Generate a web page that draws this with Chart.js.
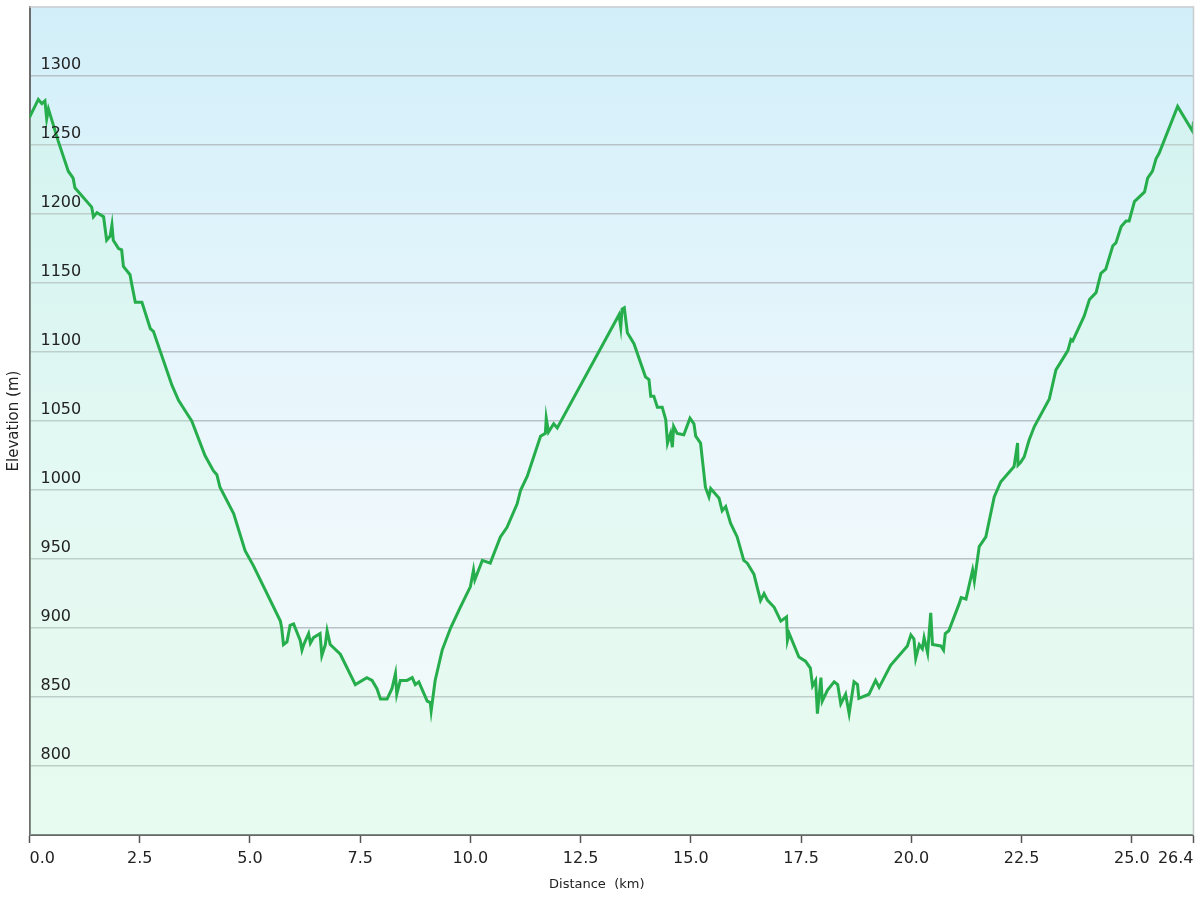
<!DOCTYPE html>
<html lang="en">
<head>
    <meta charset="UTF-8">
    <title>Elevation profile</title>
    <script src="https://cdn.jsdelivr.net/npm/chart.js@4.4.0/dist/chart.umd.min.js"></script>
    <style>
        body { margin: 0; background: #fff; }
        #wrap { width: 1200px; height: 900px; }
    </style>
</head>
<body>
<div id="wrap"><canvas id="chart"></canvas></div>
<script>
// distance along the route (km) and elevation (m)
const distanceKm = [
    0, 0.2, 0.28, 0.35, 0.39, 0.43, 0.65, 0.88, 0.99, 1.03,
    1.41, 1.45, 1.53, 1.68, 1.75, 1.83, 1.87, 1.9, 2.02, 2.09,
    2.13, 2.28, 2.32, 2.4, 2.55, 2.74, 2.81, 3.23, 3.38, 3.6,
    3.68, 3.98, 4.17, 4.25, 4.32, 4.63, 4.89, 5.08, 5.69, 5.72,
    5.76, 5.84, 5.91, 5.99, 6.14, 6.18, 6.22, 6.33, 6.37, 6.44,
    6.59, 6.63, 6.71, 6.75, 6.82, 7.05, 7.39, 7.65, 7.77, 7.88,
    7.96, 8.11, 8.22, 8.3, 8.33, 8.41, 8.56, 8.68, 8.75, 8.83,
    9.02, 9.09, 9.11, 9.2, 9.36, 9.55, 9.77, 10.0, 10.07, 10.1,
    10.27, 10.45, 10.68, 10.83, 11.06, 11.14, 11.29, 11.59, 11.7, 11.72,
    11.77, 11.89, 11.97, 13.37, 13.41, 13.44, 13.49, 13.56, 13.71, 13.97,
    14.05, 14.09, 14.16, 14.24, 14.35, 14.43, 14.47, 14.54, 14.58, 14.61,
    14.69, 14.84, 14.98, 15.07, 15.11, 15.22, 15.33, 15.41, 15.45, 15.64,
    15.71, 15.79, 15.9, 16.05, 16.2, 16.28, 16.43, 16.58, 16.66, 16.74,
    16.89, 17.04, 17.17, 17.19, 17.23, 17.45, 17.6, 17.71, 17.76, 17.83,
    17.87, 17.95, 17.98, 18.1, 18.25, 18.33, 18.4, 18.51, 18.59, 18.7,
    18.78, 18.81, 19.04, 19.19, 19.27, 19.53, 19.91, 19.99, 20.06, 20.1,
    20.18, 20.25, 20.29, 20.37, 20.44, 20.48, 20.67, 20.73, 20.77, 20.85,
    21.09, 21.13, 21.24, 21.39, 21.43, 21.54, 21.69, 21.88, 22.03, 22.33,
    22.41, 22.42, 22.48, 22.56, 22.67, 22.79, 23.13, 23.28, 23.55, 23.62,
    23.66, 23.92, 24.04, 24.19, 24.3, 24.41, 24.57, 24.64, 24.76, 24.87,
    24.94, 25.06, 25.29, 25.36, 25.47, 25.55, 25.62, 26.04, 26.38, 26.4
];
const elevationM = [
    1270, 1283, 1280, 1282, 1269, 1276, 1253, 1231, 1226, 1219,
    1205, 1198, 1201, 1198, 1181, 1184, 1192, 1181, 1175, 1174,
    1162, 1156, 1149, 1136, 1136, 1117, 1115, 1076, 1065, 1054,
    1050, 1025, 1014, 1011, 1002, 983, 956, 945, 905, 900,
    888, 890, 902, 903, 891, 884, 888, 896, 889, 893,
    896, 880, 888, 898, 888, 881, 859, 864, 862, 856,
    848.5, 848.5, 856, 867, 852, 862, 862, 864, 859, 861,
    847, 846, 840, 862, 884, 900, 915, 930, 942, 935,
    949, 947, 966, 973, 990, 1000, 1010, 1039, 1041, 1052,
    1042, 1048, 1045, 1127, 1118, 1131, 1132, 1114, 1106, 1082,
    1080, 1068, 1068, 1060, 1060, 1051, 1034, 1041, 1031, 1046,
    1041, 1040, 1052, 1048, 1039, 1034, 1002, 995, 1001, 994,
    985, 988, 976, 966, 949, 947, 939, 920, 925, 920,
    915, 905, 908, 891, 896, 879, 876, 871, 858, 862,
    838, 864, 847, 855, 861, 859, 845, 852, 838, 861,
    859, 849, 852, 862, 857, 873, 887, 895, 892, 878,
    888, 885, 893, 882, 911, 888, 887, 884, 896, 898,
    918, 922, 921, 942, 934, 959, 966, 995, 1006, 1017,
    1034, 1018, 1020, 1024, 1036, 1046, 1066, 1087, 1101, 1109,
    1108, 1126, 1138, 1143, 1157, 1160, 1177, 1179, 1191, 1195,
    1195, 1209, 1216, 1226, 1231, 1240, 1244, 1278, 1260, 1267
];
const xTicks = [0, 2.5, 5, 7.5, 10, 12.5, 15, 17.5, 20, 22.5, 25, 26.4];
const yTicks = [800, 850, 900, 950, 1000, 1050, 1100, 1150, 1200, 1250, 1300];

const points = distanceKm.map((d, i) => ({x: d, y: elevationM[i]}));

// sky gradient behind the plot and the thin frame on top/right
const frame = {
    id: 'frame',
    beforeDraw(chart) {
        const ctx = chart.ctx;
        const a = chart.chartArea;
        const g = ctx.createLinearGradient(0, a.top, 0, a.bottom);
        g.addColorStop(0, '#d2eff9');
        g.addColorStop(0.6, '#eef8fc');
        g.addColorStop(1, '#f2fbf8');
        ctx.save();
        ctx.fillStyle = g;
        ctx.fillRect(a.left, a.top, a.right - a.left, a.bottom - a.top);
        ctx.restore();
    },
    afterDraw(chart) {
        const ctx = chart.ctx;
        const a = chart.chartArea;
        ctx.save();
        ctx.strokeStyle = '#c8cccf';
        ctx.lineWidth = 1.5;
        ctx.beginPath();
        ctx.moveTo(a.left, a.top);
        ctx.lineTo(a.right, a.top);
        ctx.lineTo(a.right, a.bottom);
        ctx.stroke();
        ctx.restore();
    }
};

const font = 'DejaVu Sans';

new Chart(document.getElementById('chart'), {
    type: 'line',
    data: {
        datasets: [{
            label: 'Elevation',
            data: points,
            borderColor: '#26ad4c',
            borderWidth: 3,
            backgroundColor: 'rgba(200, 250, 215, 0.25)',
            fill: 'start',
            pointRadius: 0,
            tension: 0
        }]
    },
    options: {
        responsive: true,
        maintainAspectRatio: false,
        animation: false,
        layout: { padding: { top: 7, right: 6.5, left: 0, bottom: 0 } },
        plugins: {
            legend: { display: false },
            title: {
                display: true,
                position: 'bottom',
                text: 'Distance  (km)',
                color: '#222',
                font: { family: font, size: 13, weight: 'normal' },
                padding: { top: 7, bottom: 7.4 }
            }
        },
        scales: {
            x: {
                type: 'linear',
                min: 0,
                max: 26.4,
                afterBuildTicks: s => { s.ticks = xTicks.map(v => ({value: v})); },
                afterFit: s => { s.height = 35; s.paddingLeft = 0; s.paddingRight = 0; },
                grid: {
                    drawOnChartArea: false,
                    drawTicks: true,
                    tickLength: 8,
                    tickWidth: 1.5,
                    tickColor: '#555'
                },
                border: { display: true, color: '#666', width: 2 },
                ticks: {
                    align: 'inner',
                    maxRotation: 0,
                    padding: 6,
                    color: '#222',
                    font: { family: font, size: 16 },
                    callback: v => Number(v).toFixed(1)
                }
            },
            y: {
                min: 750,
                max: 1350,
                afterBuildTicks: s => { s.ticks = yTicks.map(v => ({value: v})); },
                afterFit: s => { s.width = 29.5; s.paddingTop = 0; s.paddingBottom = 0; },
                grid: { color: '#b8c1c5', lineWidth: 1.5, drawTicks: false },
                border: { display: true, color: '#6d6d6d', width: 2 },
                ticks: {
                    z: 1,
                    mirror: true,
                    padding: 11,
                    labelOffset: -11,
                    color: '#222',
                    font: { family: font, size: 16 },
                    callback: v => String(v)
                },
                title: {
                    display: true,
                    text: 'Elevation (m)',
                    color: '#222',
                    font: { family: font, size: 15 },
                    padding: { top: 5, bottom: 0 }
                }
            }
        }
    },
    plugins: [frame]
});
</script>
</body>
</html>
